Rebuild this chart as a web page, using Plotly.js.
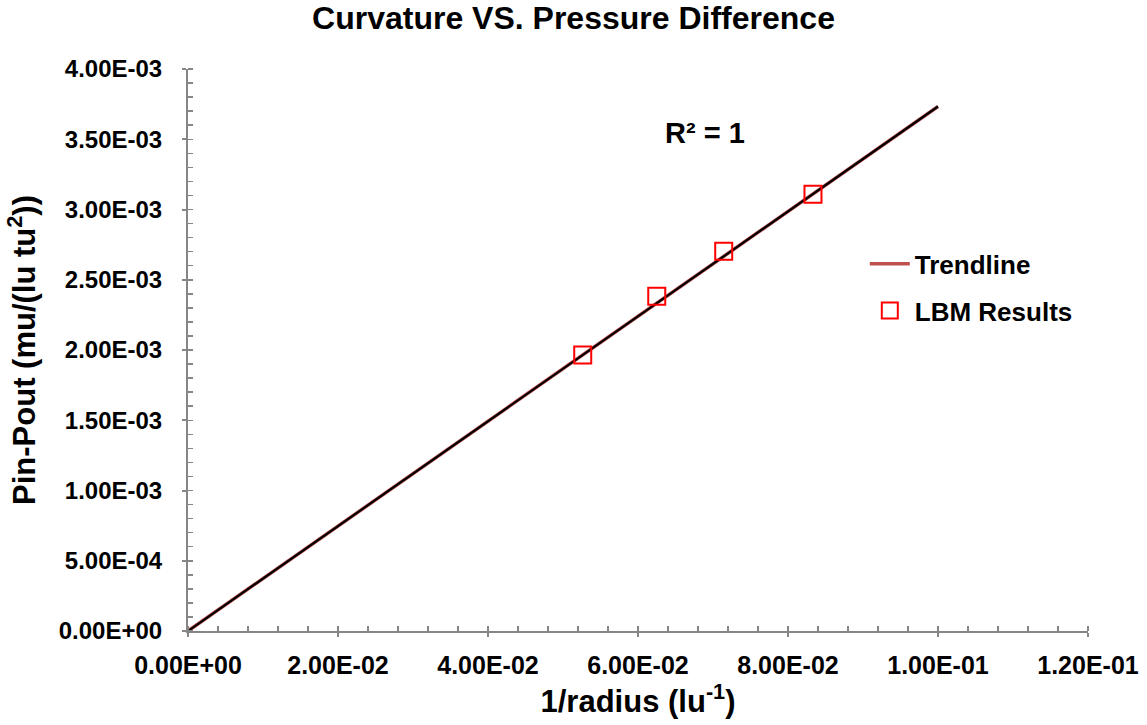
<!DOCTYPE html>
<html>
<head>
<meta charset="utf-8">
<script src="https://cdn.plot.ly/plotly-3.0.1.min.js"></script>
<style>html,body{margin:0;padding:0;background:#fff;}#chart{width:1147px;height:725px;}</style>
</head>
<body>
<div id="chart"></div>
<script>
// LBM results: curvature (1/radius) vs pressure difference
const curvature = [0.05263, 0.0625, 0.07143, 0.08333];
const pressureDiff = [0.001965, 0.002383, 0.002703, 0.003109];

// Linear trendline (through origin), R^2 = 1
const trendX = [0, 0.1];
const trendY = [0, 0.003733];

const xTickVals = [0, 0.02, 0.04, 0.06, 0.08, 0.10, 0.12];
const xTickText = ["0.00E+00", "2.00E-02", "4.00E-02", "6.00E-02", "8.00E-02", "1.00E-01", "1.20E-01"];
const yTickVals = [0, 0.0005, 0.001, 0.0015, 0.002, 0.0025, 0.003, 0.0035, 0.004];
const yTickText = ["0.00E+00", "5.00E-04", "1.00E-03", "1.50E-03", "2.00E-03", "2.50E-03", "3.00E-03", "3.50E-03", "4.00E-03"];

const FONT = '"Liberation Sans", Arial, sans-serif';
const axisGray = '#868686';

const traces = [
  {
    x: trendX, y: trendY, mode: 'lines', name: 'Trendline',
    line: {color: '#C0504D', width: 3.5},
    legendgroup: 'a', showlegend: true, hoverinfo: 'skip'
  },
  {
    x: trendX, y: trendY, mode: 'lines', name: 'Trendline',
    line: {color: '#000000', width: 2.2},
    showlegend: false, hoverinfo: 'skip'
  },
  {
    x: curvature, y: pressureDiff, mode: 'markers', name: 'LBM Results',
    marker: {symbol: 'square-open', size: 17, color: '#FF0000', line: {width: 2, color: '#FF0000'}},
    legendgroup: 'b'
  }
];

const layout = {
  width: 1147, height: 725,
  margin: {l: 188, r: 59, t: 69, b: 94},
  paper_bgcolor: '#ffffff', plot_bgcolor: '#ffffff',
  font: {family: FONT, color: '#000000'},
  title: {
    text: '<b>Curvature VS. Pressure Difference</b>',
    font: {family: FONT, size: 32, color: '#000'},
    x: 0.5, xref: 'container', xanchor: 'center',
    y: 0.975, yref: 'container', yanchor: 'middle'
  },
  xaxis: {
    range: [0, 0.12], showgrid: false, zeroline: false,
    showline: true, linecolor: axisGray, linewidth: 2,
    tickmode: 'array', tickvals: xTickVals, ticktext: xTickText,
    ticks: 'outside', ticklen: 4, tickcolor: axisGray, tickwidth: 2,
    minor: {dtick: 0.004, ticks: 'inside', ticklen: 5, tickcolor: axisGray, tickwidth: 1.5, showgrid: false},
    tickfont: {family: FONT, size: 25, color: '#000', weight: 'bold'},
    ticklabelstandoff: 7,
    title: {text: '<b>1/radius (lu<sup>-1</sup>)</b>', font: {family: FONT, size: 31, color: '#000'}, standoff: 10}
  },
  yaxis: {
    range: [0, 0.004], showgrid: false, zeroline: false,
    showline: true, linecolor: axisGray, linewidth: 2,
    tickmode: 'array', tickvals: yTickVals, ticktext: yTickText,
    ticks: 'outside', ticklen: 4, tickcolor: axisGray, tickwidth: 2,
    minor: {dtick: 0.0001, ticks: 'inside', ticklen: 5, tickcolor: axisGray, tickwidth: 1.5, showgrid: false},
    tickfont: {family: FONT, size: 24, color: '#000', weight: 'bold'},
    ticklabelstandoff: 15,
    title: {text: '<b>Pin-Pout (mu/(lu tu<sup>2</sup>))</b>', font: {family: FONT, size: 31, color: '#000'}, standoff: 14}
  },
  showlegend: true,
  legend: {
    x: 0.752, y: 0.695, xanchor: 'left', yanchor: 'top',
    bgcolor: 'rgba(0,0,0,0)', borderwidth: 0,
    font: {family: FONT, size: 26, color: '#000', weight: 'bold'},
    tracegroupgap: 10, itemwidth: 40
  },
  annotations: [
    {
      text: '<b>R² = 1</b>', xref: 'paper', yref: 'paper',
      x: 0.574, y: 0.886, xanchor: 'center', yanchor: 'middle',
      showarrow: false, font: {family: FONT, size: 29, color: '#000'}
    }
  ]
};

Plotly.newPlot('chart', traces, layout, {displayModeBar: false, staticPlot: true});
</script>
</body>
</html>
